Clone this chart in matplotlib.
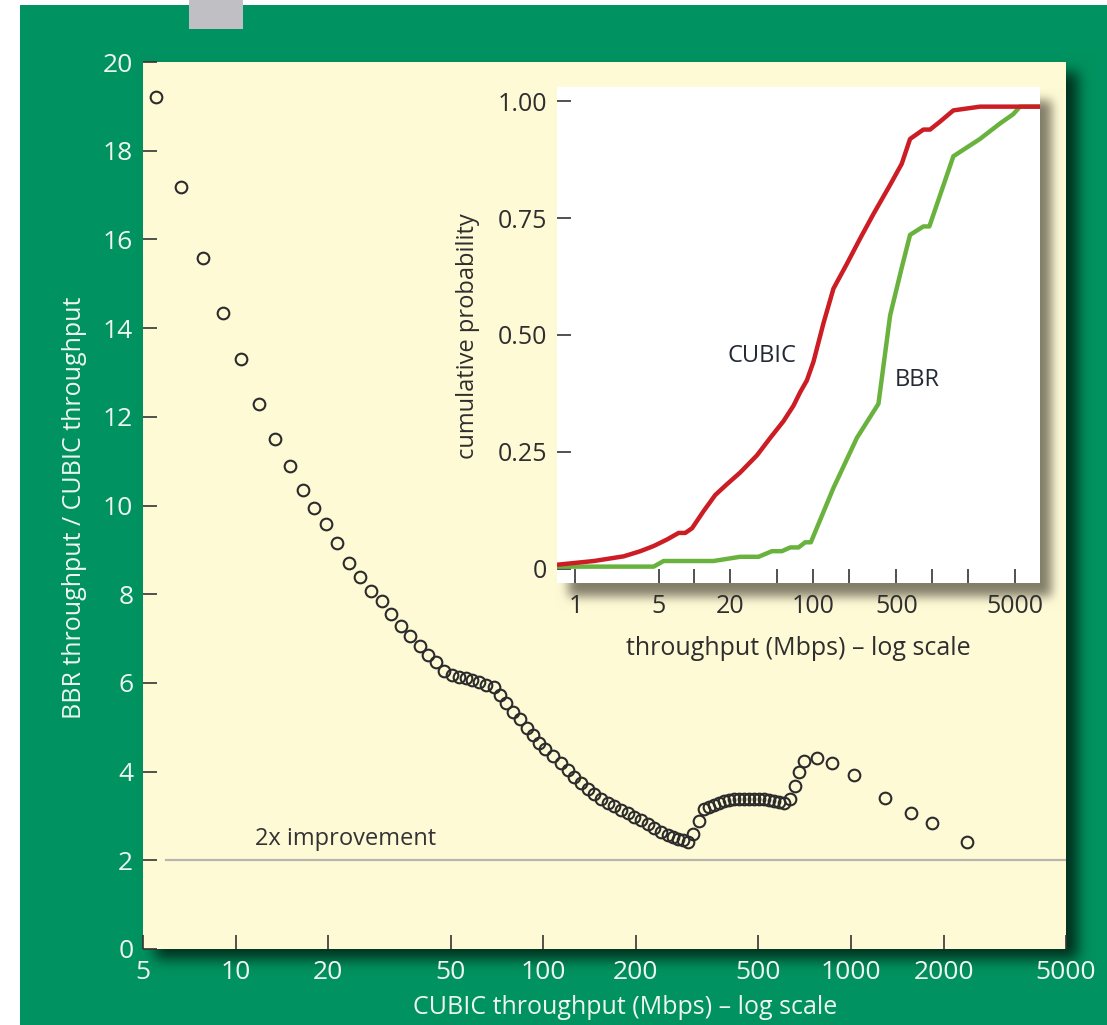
import numpy as np
import matplotlib
matplotlib.use("Agg")
import matplotlib.pyplot as plt

plt.rcParams['font.family'] = ['Open Sans', 'DejaVu Sans']

# main chart: BBR/CUBIC throughput ratio against CUBIC throughput (Mbps)
cubic_tput = [5.51, 6.63, 7.82, 9.08, 10.4, 11.9, 13.4, 15.0, 16.5, 18.0,
              19.6, 21.4, 23.4, 25.4, 27.5, 29.8, 32.1, 34.4, 37.0, 39.6,
              42.2, 44.9, 47.7, 50.6, 53.4, 56.1, 58.8, 61.9, 65.0, 68.9,
              72.3, 75.9, 79.8, 83.8, 88.4, 92.9, 97.2, 101.6, 107.2, 113.8,
              119.9, 126.3, 132.2, 139.3, 145.7, 153.5, 161.8, 169.2, 178.3, 187.9,
              196.5, 207.1, 218.3, 228.3, 240.6, 253.6, 263.3, 273.3, 283.8, 294.6,
              305.8, 320.6, 332.1, 345.6, 358.8, 372.5, 386.7, 401.5, 416.8, 432.7,
              449.2, 466.4, 484.2, 502.6, 521.8, 541.7, 562.4, 583.9, 606.1, 635.0,
              656.9, 678.3, 702.6, 772.9, 866.8, 1019.5, 1292, 1566, 1833, 2383]
ratio = [19.20, 17.18, 15.59, 14.33, 13.30, 12.29, 11.51, 10.89, 10.36, 9.94,
         9.59, 9.15, 8.71, 8.38, 8.08, 7.84, 7.56, 7.29, 7.06, 6.84,
         6.64, 6.46, 6.27, 6.17, 6.13, 6.10, 6.07, 6.03, 5.95, 5.90,
         5.73, 5.54, 5.35, 5.18, 4.98, 4.83, 4.64, 4.51, 4.35, 4.19,
         4.04, 3.88, 3.74, 3.61, 3.49, 3.39, 3.30, 3.22, 3.13, 3.06,
         2.98, 2.90, 2.81, 2.72, 2.64, 2.58, 2.53, 2.48, 2.45, 2.41,
         2.60, 2.89, 3.15, 3.20, 3.24, 3.29, 3.34, 3.37, 3.38, 3.38,
         3.38, 3.38, 3.38, 3.38, 3.38, 3.36, 3.34, 3.32, 3.29, 3.38,
         3.68, 3.98, 4.25, 4.30, 4.19, 3.92, 3.40, 3.06, 2.85, 2.42]
main_xticks = [5, 10, 20, 50, 100, 200, 500, 1000, 2000, 5000]
main_yticks = [0, 2, 4, 6, 8, 10, 12, 14, 16, 18, 20]

# inset: CDFs of throughput
cubic_cdf_x = [0.7, 1.43, 2.55, 3.52, 4.55, 5.9, 7.38, 8.4, 9.57, 12.0,
               15.0, 18.8, 24.3, 33.7, 43.5, 56.3, 68.3, 77.8, 88.5, 100.6,
               122, 148, 192, 248, 322, 444, 556, 653, 845, 962,
               1167, 1511, 2530, 8090]
cubic_cdf_y = [0.009, 0.017, 0.027, 0.038, 0.049, 0.063, 0.077, 0.077, 0.087, 0.124,
               0.158, 0.181, 0.206, 0.243, 0.280, 0.316, 0.349, 0.378, 0.403, 0.443,
               0.525, 0.599, 0.652, 0.706, 0.759, 0.821, 0.866, 0.919, 0.939, 0.939,
               0.956, 0.980, 0.988, 0.988]
bbr_cdf_x = [0.7, 4.55, 5.52, 14.5, 24.3, 34.7, 45.0, 54.6, 64.1, 75.3,
             85.7, 95.6, 148, 233, 354, 444, 556, 653, 845, 949,
             1511, 2530, 3726, 4822, 5487, 8090]
bbr_cdf_y = [0.005, 0.005, 0.017, 0.017, 0.026, 0.026, 0.038, 0.038, 0.046, 0.046,
             0.057, 0.057, 0.173, 0.280, 0.353, 0.542, 0.644, 0.714, 0.732, 0.732,
             0.882, 0.919, 0.952, 0.972, 0.988, 0.988]
inset_xticks = [1, 5, 10, 20, 50, 100, 200, 500, 1000, 2000, 5000]
inset_xlabels = ['1', '5', '', '20', '', '100', '', '500', '', '', '5000']
inset_yticks = [0, 0.25, 0.5, 0.75, 1.0]
inset_ylabels = ['0', '0.25', '0.50', '0.75', '1.00']

W, H, DPI = 1107, 1025, 100
MAIN = (143, 62, 1066, 949)     # left, top, right, bottom in pixels
INSET = (557, 87, 1040, 583)

GREEN = np.array([0, 146, 96]) / 255
CREAM = np.array([255, 250, 214]) / 255
LIGHT = '#eef6ee'
DARK = '#2b2b2b'


def fig_rect(box):
    l, t, r, b = box
    return [l / W, 1 - b / H, (r - l) / W, (b - t) / H]


def soft_shadow(box, dx, dy, radius):
    m = np.zeros((H, W))
    l, t, r, b = box
    m[t + dy:b + dy, l + dx:r + dx] = 1
    k = np.ones(radius) / radius
    for _ in range(3):
        m = np.apply_along_axis(lambda v: np.convolve(v, k, mode='same'), 0, m)
        m = np.apply_along_axis(lambda v: np.convolve(v, k, mode='same'), 1, m)
    return m[..., None]


# background picture: green panel, drop shadows, cream plot area
bg = np.ones((H, W, 3))
bg[5:, 20:] = GREEN
bg[0:29, 189:243] = [0.75, 0.75, 0.77]
a = 0.9 * soft_shadow(MAIN, 12, 10, 13)
bg = bg * (1 - a) + np.array([0, 38, 22]) / 255 * a
l, t, r, b = MAIN
bg[t:b, l:r] = CREAM
a = 0.75 * soft_shadow(INSET, 10, 12, 10)
inside = np.zeros((H, W, 1))
inside[t:b, l:r] = 1
a = a * inside
bg = bg * (1 - a) + np.array([90, 85, 68]) / 255 * a

fig = plt.figure(figsize=(W / DPI, H / DPI), dpi=DPI)
bax = fig.add_axes([0, 0, 1, 1])
bax.imshow(bg, aspect='auto', interpolation='nearest')
bax.axis('off')

# main plot
ax = fig.add_axes(fig_rect(MAIN))
ax.patch.set_alpha(0)
ax.set_xscale('log')
ax.plot(cubic_tput, ratio, 'o', mfc='none', mec=DARK, ms=8.4, mew=1.5)
ax.plot([5.94, 5000], [2, 2], color='#b8b6ac', lw=1.6, zorder=1)
ax.text(11.6, 2.2, '2x improvement', fontsize=17, color='#333333', va='bottom')
ax.set_xlim(5, 5000)
ax.set_ylim(0, 20)
ax.set_xticks(main_xticks)
ax.set_xticklabels([str(v) for v in main_xticks])
ax.xaxis.set_minor_locator(matplotlib.ticker.NullLocator())
ax.set_yticks(main_yticks)
ax.set_yticklabels([str(v) for v in main_yticks])
ax.tick_params(direction='in', length=10, width=1.2, color='#333333',
               labelcolor=LIGHT, labelsize=19)
ax.tick_params(axis='x', pad=8)
ax.tick_params(axis='y', pad=7)
for s in ax.spines.values():
    s.set_visible(False)
fig.text(625 / W, 1 - 1007 / H, 'CUBIC throughput (Mbps) – log scale',
         fontsize=18, color=LIGHT, ha='center', va='center')
fig.text(75 / W, 1 - 508 / H, 'BBR throughput / CUBIC throughput',
         fontsize=18, color=LIGHT, ha='center', va='center', rotation=90)

# inset
ins = fig.add_axes(fig_rect(INSET))
ins.set_facecolor('white')
ins.set_xscale('log')
ins.plot(bbr_cdf_x, bbr_cdf_y, color='#6ab23e', lw=3.2, solid_capstyle='butt')
ins.plot(cubic_cdf_x, cubic_cdf_y, color='#cc1d25', lw=3.2, solid_capstyle='butt')
ins.text(37.3, 0.455, 'CUBIC', fontsize=17, color='#232a36', ha='center', va='center')
ins.text(748, 0.404, 'BBR', fontsize=17, color='#232a36', ha='center', va='center')
ins.set_xlim(0.7, 8090)
ins.set_ylim(-0.03, 1.03)
ins.set_xticks(inset_xticks)
ins.set_xticklabels(inset_xlabels)
ins.xaxis.set_minor_locator(matplotlib.ticker.NullLocator())
ins.set_yticks(inset_yticks)
ins.set_yticklabels(inset_ylabels)
ins.tick_params(direction='in', length=10, width=1.2, color='#333333',
                labelcolor='#2e2e2e', labelsize=18)
ins.tick_params(axis='x', pad=8)
ins.tick_params(axis='y', pad=7)
for s in ins.spines.values():
    s.set_visible(False)
ins.set_xlabel('throughput (Mbps) – log scale', fontsize=18, color='#2e2e2e', labelpad=12)
fig.text(468 / W, 1 - 336 / H, 'cumulative probability', fontsize=17,
         color='#2e2e2e', ha='center', va='center', rotation=90)

fig.savefig('out.png', dpi=DPI)
